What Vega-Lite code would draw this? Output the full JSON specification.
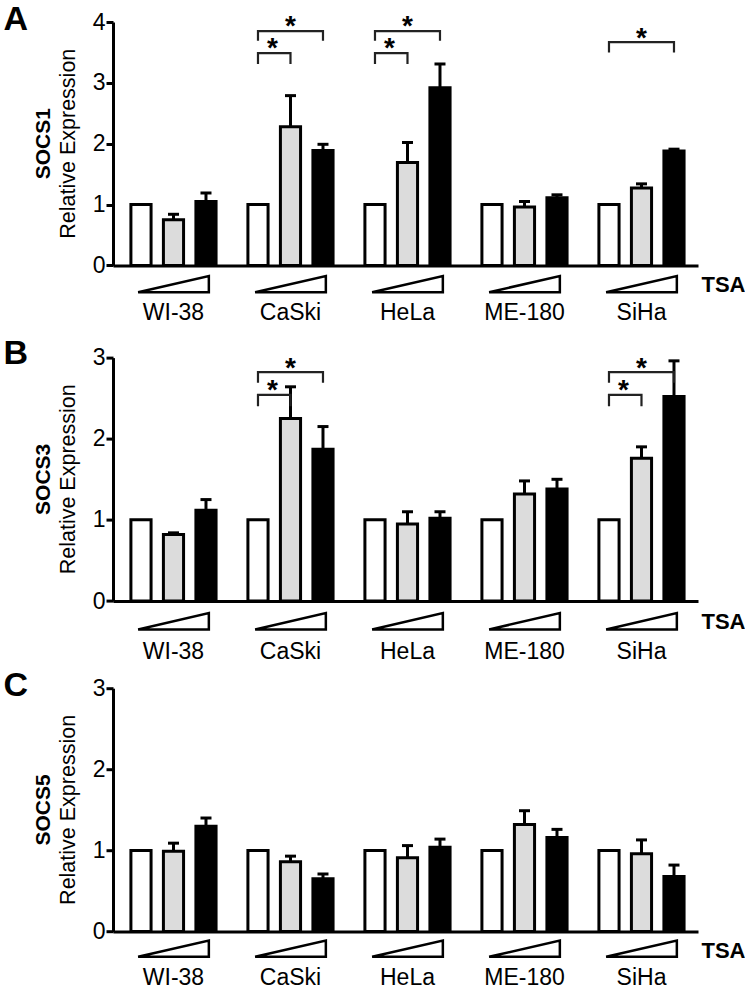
{
  "$schema": "https://vega.github.io/schema/vega-lite/v6.json",
  "background": "white",
  "padding": {"left": 3, "top": 2, "right": 0, "bottom": 0},
  "config": {
    "font": "Liberation Sans",
    "view": {"stroke": null},
    "axis": {"labelFont": "Liberation Sans", "titleFont": "Liberation Sans", "domainColor": "black", "tickColor": "black", "labelColor": "black", "titleColor": "black", "grid": false}
  },
  "datasets": {
    "bars": [
      {"panel": "A", "cell": "WI-38", "dose": "Ctrl", "v": 1},
      {"panel": "A", "cell": "WI-38", "dose": "Low", "v": 0.75, "upper": 0.84},
      {"panel": "A", "cell": "WI-38", "dose": "High", "v": 1.05, "upper": 1.19},
      {"panel": "A", "cell": "CaSki", "dose": "Ctrl", "v": 1},
      {"panel": "A", "cell": "CaSki", "dose": "Low", "v": 2.28, "upper": 2.79},
      {"panel": "A", "cell": "CaSki", "dose": "High", "v": 1.89, "upper": 1.99},
      {"panel": "A", "cell": "HeLa", "dose": "Ctrl", "v": 1},
      {"panel": "A", "cell": "HeLa", "dose": "Low", "v": 1.69, "upper": 2.02},
      {"panel": "A", "cell": "HeLa", "dose": "High", "v": 2.92, "upper": 3.31},
      {"panel": "A", "cell": "ME-180", "dose": "Ctrl", "v": 1},
      {"panel": "A", "cell": "ME-180", "dose": "Low", "v": 0.96, "upper": 1.05},
      {"panel": "A", "cell": "ME-180", "dose": "High", "v": 1.11, "upper": 1.16},
      {"panel": "A", "cell": "SiHa", "dose": "Ctrl", "v": 1},
      {"panel": "A", "cell": "SiHa", "dose": "Low", "v": 1.27, "upper": 1.34},
      {"panel": "A", "cell": "SiHa", "dose": "High", "v": 1.88, "upper": 1.91},
      {"panel": "B", "cell": "WI-38", "dose": "Ctrl", "v": 1},
      {"panel": "B", "cell": "WI-38", "dose": "Low", "v": 0.82, "upper": 0.84},
      {"panel": "B", "cell": "WI-38", "dose": "High", "v": 1.12, "upper": 1.25},
      {"panel": "B", "cell": "CaSki", "dose": "Ctrl", "v": 1},
      {"panel": "B", "cell": "CaSki", "dose": "Low", "v": 2.25, "upper": 2.64},
      {"panel": "B", "cell": "CaSki", "dose": "High", "v": 1.87, "upper": 2.15},
      {"panel": "B", "cell": "HeLa", "dose": "Ctrl", "v": 1},
      {"panel": "B", "cell": "HeLa", "dose": "Low", "v": 0.95, "upper": 1.10},
      {"panel": "B", "cell": "HeLa", "dose": "High", "v": 1.02, "upper": 1.10},
      {"panel": "B", "cell": "ME-180", "dose": "Ctrl", "v": 1},
      {"panel": "B", "cell": "ME-180", "dose": "Low", "v": 1.32, "upper": 1.48},
      {"panel": "B", "cell": "ME-180", "dose": "High", "v": 1.38, "upper": 1.50},
      {"panel": "B", "cell": "SiHa", "dose": "Ctrl", "v": 1},
      {"panel": "B", "cell": "SiHa", "dose": "Low", "v": 1.76, "upper": 1.90},
      {"panel": "B", "cell": "SiHa", "dose": "High", "v": 2.52, "upper": 2.96},
      {"panel": "C", "cell": "WI-38", "dose": "Ctrl", "v": 1},
      {"panel": "C", "cell": "WI-38", "dose": "Low", "v": 0.99, "upper": 1.09},
      {"panel": "C", "cell": "WI-38", "dose": "High", "v": 1.30, "upper": 1.40},
      {"panel": "C", "cell": "CaSki", "dose": "Ctrl", "v": 1},
      {"panel": "C", "cell": "CaSki", "dose": "Low", "v": 0.86, "upper": 0.93},
      {"panel": "C", "cell": "CaSki", "dose": "High", "v": 0.65, "upper": 0.71},
      {"panel": "C", "cell": "HeLa", "dose": "Ctrl", "v": 1},
      {"panel": "C", "cell": "HeLa", "dose": "Low", "v": 0.91, "upper": 1.06},
      {"panel": "C", "cell": "HeLa", "dose": "High", "v": 1.04, "upper": 1.14},
      {"panel": "C", "cell": "ME-180", "dose": "Ctrl", "v": 1},
      {"panel": "C", "cell": "ME-180", "dose": "Low", "v": 1.32, "upper": 1.49},
      {"panel": "C", "cell": "ME-180", "dose": "High", "v": 1.16, "upper": 1.26},
      {"panel": "C", "cell": "SiHa", "dose": "Ctrl", "v": 1},
      {"panel": "C", "cell": "SiHa", "dose": "Low", "v": 0.96, "upper": 1.13},
      {"panel": "C", "cell": "SiHa", "dose": "High", "v": 0.68, "upper": 0.82}
    ],
    "brackets": [
      {"panel": "A", "id": "A1", "cell": "CaSki", "dose": "Ctrl", "v": 3.31, "ord": 1},
      {"panel": "A", "id": "A1", "cell": "CaSki", "dose": "Ctrl", "v": 3.49, "ord": 2},
      {"panel": "A", "id": "A1", "cell": "CaSki", "dose": "Low", "v": 3.49, "ord": 3},
      {"panel": "A", "id": "A1", "cell": "CaSki", "dose": "Low", "v": 3.31, "ord": 4},
      {"panel": "A", "id": "A2", "cell": "CaSki", "dose": "Ctrl", "v": 3.69, "ord": 1},
      {"panel": "A", "id": "A2", "cell": "CaSki", "dose": "Ctrl", "v": 3.85, "ord": 2},
      {"panel": "A", "id": "A2", "cell": "CaSki", "dose": "High", "v": 3.85, "ord": 3},
      {"panel": "A", "id": "A2", "cell": "CaSki", "dose": "High", "v": 3.69, "ord": 4},
      {"panel": "A", "id": "A3", "cell": "HeLa", "dose": "Ctrl", "v": 3.31, "ord": 1},
      {"panel": "A", "id": "A3", "cell": "HeLa", "dose": "Ctrl", "v": 3.49, "ord": 2},
      {"panel": "A", "id": "A3", "cell": "HeLa", "dose": "Low", "v": 3.49, "ord": 3},
      {"panel": "A", "id": "A3", "cell": "HeLa", "dose": "Low", "v": 3.31, "ord": 4},
      {"panel": "A", "id": "A4", "cell": "HeLa", "dose": "Ctrl", "v": 3.69, "ord": 1},
      {"panel": "A", "id": "A4", "cell": "HeLa", "dose": "Ctrl", "v": 3.85, "ord": 2},
      {"panel": "A", "id": "A4", "cell": "HeLa", "dose": "High", "v": 3.85, "ord": 3},
      {"panel": "A", "id": "A4", "cell": "HeLa", "dose": "High", "v": 3.69, "ord": 4},
      {"panel": "A", "id": "A5", "cell": "SiHa", "dose": "Ctrl", "v": 3.50, "ord": 1},
      {"panel": "A", "id": "A5", "cell": "SiHa", "dose": "Ctrl", "v": 3.67, "ord": 2},
      {"panel": "A", "id": "A5", "cell": "SiHa", "dose": "High", "v": 3.67, "ord": 3},
      {"panel": "A", "id": "A5", "cell": "SiHa", "dose": "High", "v": 3.50, "ord": 4},
      {"panel": "B", "id": "B1", "cell": "CaSki", "dose": "Ctrl", "v": 2.40, "ord": 1},
      {"panel": "B", "id": "B1", "cell": "CaSki", "dose": "Ctrl", "v": 2.54, "ord": 2},
      {"panel": "B", "id": "B1", "cell": "CaSki", "dose": "Low", "v": 2.54, "ord": 3},
      {"panel": "B", "id": "B1", "cell": "CaSki", "dose": "Low", "v": 2.40, "ord": 4},
      {"panel": "B", "id": "B2", "cell": "CaSki", "dose": "Ctrl", "v": 2.69, "ord": 1},
      {"panel": "B", "id": "B2", "cell": "CaSki", "dose": "Ctrl", "v": 2.82, "ord": 2},
      {"panel": "B", "id": "B2", "cell": "CaSki", "dose": "High", "v": 2.82, "ord": 3},
      {"panel": "B", "id": "B2", "cell": "CaSki", "dose": "High", "v": 2.69, "ord": 4},
      {"panel": "B", "id": "B3", "cell": "SiHa", "dose": "Ctrl", "v": 2.40, "ord": 1},
      {"panel": "B", "id": "B3", "cell": "SiHa", "dose": "Ctrl", "v": 2.54, "ord": 2},
      {"panel": "B", "id": "B3", "cell": "SiHa", "dose": "Low", "v": 2.54, "ord": 3},
      {"panel": "B", "id": "B3", "cell": "SiHa", "dose": "Low", "v": 2.40, "ord": 4},
      {"panel": "B", "id": "B4", "cell": "SiHa", "dose": "Ctrl", "v": 2.69, "ord": 1},
      {"panel": "B", "id": "B4", "cell": "SiHa", "dose": "Ctrl", "v": 2.82, "ord": 2},
      {"panel": "B", "id": "B4", "cell": "SiHa", "dose": "High", "v": 2.82, "ord": 3},
      {"panel": "B", "id": "B4", "cell": "SiHa", "dose": "High", "v": 2.69, "ord": 4}
    ],
    "stars": [
      {"panel": "A", "cell": "CaSki", "kind": "outer", "dose": "Low", "v": 4.05},
      {"panel": "A", "cell": "CaSki", "kind": "inner", "dose": "Low", "v": 3.68},
      {"panel": "A", "cell": "HeLa", "kind": "outer", "dose": "Low", "v": 4.05},
      {"panel": "A", "cell": "HeLa", "kind": "inner", "dose": "Low", "v": 3.68},
      {"panel": "A", "cell": "SiHa", "kind": "outer", "dose": "Low", "v": 3.86},
      {"panel": "B", "cell": "CaSki", "kind": "outer", "dose": "Low", "v": 2.96},
      {"panel": "B", "cell": "CaSki", "kind": "inner", "dose": "Low", "v": 2.69},
      {"panel": "B", "cell": "SiHa", "kind": "outer", "dose": "Low", "v": 2.96},
      {"panel": "B", "cell": "SiHa", "kind": "inner", "dose": "Low", "v": 2.69}
    ]
  },
  "bounds": "flush",
  "spacing": 91.6,
  "vconcat": [
    {
      "width": 585, "height": 243.4,
      "title": {"text": "SOCS1", "subtitle": "Relative Expression", "orient": "left", "anchor": "middle", "frame": "group", "font": "Liberation Sans", "fontSize": 21, "fontWeight": "bold", "color": "black", "subtitleFont": "Liberation Sans", "subtitleFontSize": 21.5, "subtitleColor": "black", "subtitlePadding": 4, "offset": -76},
      "encoding": {
        "x": {"field": "cell", "type": "nominal", "sort": ["WI-38", "CaSki", "HeLa", "ME-180", "SiHa"], "scale": {"paddingInner": 0.1, "paddingOuter": 0.05, "align": 0.67},
          "axis": {"title": "TSA", "titleX": 610, "titleY": 19.5, "titleAlign": "center", "titleBaseline": "middle", "titleFontSize": 22, "titleFontWeight": "bold", "labelAngle": 0, "labelFontSize": 23, "labelPadding": 36, "ticks": false, "tickSize": 0, "domainWidth": 3}},
        "y": {"field": "v", "type": "quantitative", "scale": {"domain": [0, 4], "nice": false},
          "axis": {"values": [0, 1, 2, 3, 4], "title": "A", "titleAngle": 0, "titleX": -110, "titleY": 7, "titleAlign": "left", "titleBaseline": "alphabetic", "titleFontSize": 34, "titleFontWeight": "bold", "labelFontSize": 23, "labelPadding": 1, "tickSize": 7, "tickWidth": 3, "domainWidth": 3}}
      },
      "layer": [
        {
          "data": {"name": "bars"},
          "transform": [{"filter": "datum.panel == 'A'"}],
          "mark": {"type": "bar", "stroke": "black", "strokeWidth": 3},
          "encoding": {
            "xOffset": {"field": "dose", "sort": ["Ctrl", "Low", "High"], "scale": {"paddingInner": 0.38, "paddingOuter": 0.31}},
            "fill": {"field": "dose", "scale": {"domain": ["Ctrl", "Low", "High"], "range": ["white", "#dcdcdc", "black"]}, "legend": null}
          }
        },
        {
          "data": {"name": "bars"},
          "transform": [{"filter": "datum.panel == 'A' && datum.dose != 'Ctrl'"}],
          "mark": {"type": "rule", "color": "black", "strokeWidth": 3},
          "encoding": {
            "xOffset": {"field": "dose", "sort": ["Ctrl", "Low", "High"]},
            "y2": {"field": "upper"}
          }
        },
        {
          "data": {"name": "bars"},
          "transform": [{"filter": "datum.panel == 'A' && datum.dose != 'Ctrl'"}],
          "mark": {"type": "tick", "color": "black", "thickness": 3, "size": 11, "opacity": 1},
          "encoding": {
            "xOffset": {"field": "dose", "sort": ["Ctrl", "Low", "High"]},
            "y": {"field": "upper", "type": "quantitative"}
          }
        },
        {
          "data": {"name": "brackets"},
          "transform": [{"filter": "datum.panel == 'A'"}],
          "mark": {"type": "line", "color": "#222222", "strokeWidth": 2.2, "xOffset": -4},
          "encoding": {
            "xOffset": {"field": "dose", "sort": ["Ctrl", "Low", "High"]},
            "detail": {"field": "id"},
            "order": {"field": "ord", "type": "quantitative"}
          }
        },
        {
          "data": {"name": "stars"},
          "transform": [{"filter": "datum.panel == 'A' && datum.kind == 'outer'"}],
          "mark": {"type": "text", "text": "*", "fontSize": 28, "fontWeight": "bold", "baseline": "middle", "dy": 8, "color": "black"},
          "encoding": {"xOffset": {"field": "dose", "sort": ["Ctrl", "Low", "High"]}}
        },
        {
          "data": {"name": "stars"},
          "transform": [{"filter": "datum.panel == 'A' && datum.kind == 'inner'"}],
          "mark": {"type": "text", "text": "*", "fontSize": 28, "fontWeight": "bold", "baseline": "middle", "dy": 8, "dx": -18, "color": "black"},
          "encoding": {"xOffset": {"field": "dose", "sort": ["Ctrl", "Low", "High"]}}
        },
        {
          "data": {"name": "bars"},
          "transform": [{"filter": "datum.panel == 'A' && datum.dose == 'Ctrl'"}],
          "mark": {"type": "point", "shape": "M -1 0.23 L 1 0.23 L 1 -0.23 Z", "size": 5000, "filled": false, "stroke": "black", "strokeWidth": 2.5, "opacity": 1},
          "encoding": {"y": {"datum": -0.307}}
        }
      ]
    },
    {
      "bounds": "flush",
      "spacing": 86.6,
      "vconcat": [
        {
          "width": 585, "height": 243.4,
          "title": {"text": "SOCS3", "subtitle": "Relative Expression", "orient": "left", "anchor": "middle", "frame": "group", "font": "Liberation Sans", "fontSize": 21, "fontWeight": "bold", "color": "black", "subtitleFont": "Liberation Sans", "subtitleFontSize": 21.5, "subtitleColor": "black", "subtitlePadding": 4, "offset": -76},
          "encoding": {
            "x": {"field": "cell", "type": "nominal", "sort": ["WI-38", "CaSki", "HeLa", "ME-180", "SiHa"], "scale": {"paddingInner": 0.1, "paddingOuter": 0.05, "align": 0.67},
              "axis": {"title": "TSA", "titleX": 610, "titleY": 20.5, "titleAlign": "center", "titleBaseline": "middle", "titleFontSize": 22, "titleFontWeight": "bold", "labelAngle": 0, "labelFontSize": 23, "labelPadding": 39, "ticks": false, "tickSize": 0, "domainWidth": 3}},
            "y": {"field": "v", "type": "quantitative", "scale": {"domain": [0, 3], "nice": false},
              "axis": {"values": [0, 1, 2, 3], "title": "B", "titleAngle": 0, "titleX": -110, "titleY": 6, "titleAlign": "left", "titleBaseline": "alphabetic", "titleFontSize": 34, "titleFontWeight": "bold", "labelFontSize": 23, "labelPadding": 1, "tickSize": 7, "tickWidth": 3, "domainWidth": 3}}
          },
          "layer": [
            {
              "data": {"name": "bars"},
              "transform": [{"filter": "datum.panel == 'B'"}],
              "mark": {"type": "bar", "stroke": "black", "strokeWidth": 3},
              "encoding": {
                "xOffset": {"field": "dose", "sort": ["Ctrl", "Low", "High"], "scale": {"paddingInner": 0.38, "paddingOuter": 0.31}},
                "fill": {"field": "dose", "scale": {"domain": ["Ctrl", "Low", "High"], "range": ["white", "#dcdcdc", "black"]}, "legend": null}
              }
            },
            {
              "data": {"name": "bars"},
              "transform": [{"filter": "datum.panel == 'B' && datum.dose != 'Ctrl'"}],
              "mark": {"type": "rule", "color": "black", "strokeWidth": 3},
              "encoding": {
                "xOffset": {"field": "dose", "sort": ["Ctrl", "Low", "High"]},
                "y2": {"field": "upper"}
              }
            },
            {
              "data": {"name": "bars"},
              "transform": [{"filter": "datum.panel == 'B' && datum.dose != 'Ctrl'"}],
              "mark": {"type": "tick", "color": "black", "thickness": 3, "size": 11, "opacity": 1},
              "encoding": {
                "xOffset": {"field": "dose", "sort": ["Ctrl", "Low", "High"]},
                "y": {"field": "upper", "type": "quantitative"}
              }
            },
            {
              "data": {"name": "brackets"},
              "transform": [{"filter": "datum.panel == 'B'"}],
              "mark": {"type": "line", "color": "#222222", "strokeWidth": 2.2, "xOffset": -4},
              "encoding": {
                "xOffset": {"field": "dose", "sort": ["Ctrl", "Low", "High"]},
                "detail": {"field": "id"},
                "order": {"field": "ord", "type": "quantitative"}
              }
            },
            {
              "data": {"name": "stars"},
              "transform": [{"filter": "datum.panel == 'B' && datum.kind == 'outer'"}],
              "mark": {"type": "text", "text": "*", "fontSize": 28, "fontWeight": "bold", "baseline": "middle", "dy": 8, "color": "black"},
              "encoding": {"xOffset": {"field": "dose", "sort": ["Ctrl", "Low", "High"]}}
            },
            {
              "data": {"name": "stars"},
              "transform": [{"filter": "datum.panel == 'B' && datum.kind == 'inner'"}],
              "mark": {"type": "text", "text": "*", "fontSize": 28, "fontWeight": "bold", "baseline": "middle", "dy": 8, "dx": -18, "color": "black"},
              "encoding": {"xOffset": {"field": "dose", "sort": ["Ctrl", "Low", "High"]}}
            },
            {
              "data": {"name": "bars"},
              "transform": [{"filter": "datum.panel == 'B' && datum.dose == 'Ctrl'"}],
              "mark": {"type": "point", "shape": "M -1 0.23 L 1 0.23 L 1 -0.23 Z", "size": 5000, "filled": false, "stroke": "black", "strokeWidth": 2.5, "opacity": 1},
              "encoding": {"y": {"datum": -0.25}}
            }
          ]
        },
        {
          "width": 585, "height": 243.4,
          "title": {"text": "SOCS5", "subtitle": "Relative Expression", "orient": "left", "anchor": "middle", "frame": "group", "font": "Liberation Sans", "fontSize": 21, "fontWeight": "bold", "color": "black", "subtitleFont": "Liberation Sans", "subtitleFontSize": 21.5, "subtitleColor": "black", "subtitlePadding": 4, "offset": -76},
          "encoding": {
            "x": {"field": "cell", "type": "nominal", "sort": ["WI-38", "CaSki", "HeLa", "ME-180", "SiHa"], "scale": {"paddingInner": 0.1, "paddingOuter": 0.05, "align": 0.67},
              "axis": {"title": "TSA", "titleX": 610, "titleY": 18.5, "titleAlign": "center", "titleBaseline": "middle", "titleFontSize": 22, "titleFontWeight": "bold", "labelAngle": 0, "labelFontSize": 23, "labelPadding": 35, "ticks": false, "tickSize": 0, "domainWidth": 3}},
            "y": {"field": "v", "type": "quantitative", "scale": {"domain": [0, 3], "nice": false},
              "axis": {"values": [0, 1, 2, 3], "title": "C", "titleAngle": 0, "titleX": -110, "titleY": 7, "titleAlign": "left", "titleBaseline": "alphabetic", "titleFontSize": 34, "titleFontWeight": "bold", "labelFontSize": 23, "labelPadding": 1, "tickSize": 7, "tickWidth": 3, "domainWidth": 3}}
          },
          "layer": [
            {
              "data": {"name": "bars"},
              "transform": [{"filter": "datum.panel == 'C'"}],
              "mark": {"type": "bar", "stroke": "black", "strokeWidth": 3},
              "encoding": {
                "xOffset": {"field": "dose", "sort": ["Ctrl", "Low", "High"], "scale": {"paddingInner": 0.38, "paddingOuter": 0.31}},
                "fill": {"field": "dose", "scale": {"domain": ["Ctrl", "Low", "High"], "range": ["white", "#dcdcdc", "black"]}, "legend": null}
              }
            },
            {
              "data": {"name": "bars"},
              "transform": [{"filter": "datum.panel == 'C' && datum.dose != 'Ctrl'"}],
              "mark": {"type": "rule", "color": "black", "strokeWidth": 3},
              "encoding": {
                "xOffset": {"field": "dose", "sort": ["Ctrl", "Low", "High"]},
                "y2": {"field": "upper"}
              }
            },
            {
              "data": {"name": "bars"},
              "transform": [{"filter": "datum.panel == 'C' && datum.dose != 'Ctrl'"}],
              "mark": {"type": "tick", "color": "black", "thickness": 3, "size": 11, "opacity": 1},
              "encoding": {
                "xOffset": {"field": "dose", "sort": ["Ctrl", "Low", "High"]},
                "y": {"field": "upper", "type": "quantitative"}
              }
            },
            {
              "data": {"name": "bars"},
              "transform": [{"filter": "datum.panel == 'C' && datum.dose == 'Ctrl'"}],
              "mark": {"type": "point", "shape": "M -1 0.23 L 1 0.23 L 1 -0.23 Z", "size": 5000, "filled": false, "stroke": "black", "strokeWidth": 2.5, "opacity": 1},
              "encoding": {"y": {"datum": -0.21}}
            }
          ]
        }
      ]
    }
  ]
}
